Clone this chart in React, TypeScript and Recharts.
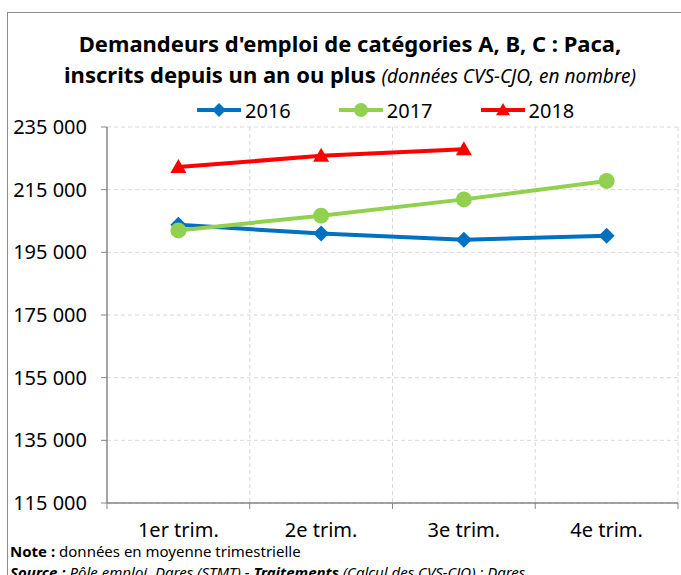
import React from 'react';
import { LineChart, Line, XAxis, YAxis, CartesianGrid, Legend } from 'recharts';

const quarters = ['1er trim.', '2e trim.', '3e trim.', '4e trim.'];
const values2016 = [203800, 201000, 199000, 200300];
const values2017 = [202000, 206700, 211900, 217800];
const values2018 = [222200, 225800, 227900, null];
const yTicks = [115000, 135000, 155000, 175000, 195000, 215000, 235000];

const BLUE = '#0070C0';
const GREEN = '#92D050';
const RED = '#FF0000';
const FONT = '"Noto Sans", "Open Sans", sans-serif';

const data = quarters.map((q, i) => ({
  q,
  y2016: values2016[i],
  y2017: values2017[i],
  y2018: values2018[i],
}));

const fmt = (v: number) => String(v).replace(/\B(?=(\d{3})+(?!\d))/g, ' ');

const Diamond = ({ cx, cy, color, r = 8 }: any) => (
  <polygon points={`${cx},${cy - r} ${cx + r},${cy} ${cx},${cy + r} ${cx - r},${cy}`} fill={color} />
);
const Circle = ({ cx, cy, color, r = 8 }: any) => <circle cx={cx} cy={cy} r={r} fill={color} />;
const Triangle = ({ cx, cy, color, r = 8 }: any) => (
  <polygon points={`${cx},${cy - r} ${cx + r},${cy + r * 0.75} ${cx - r},${cy + r * 0.75}`} fill={color} />
);

const dotFor = (Shape: any, color: string) => (props: any) => {
  if (props.value == null) return <g key={props.index} />;
  return <Shape key={props.index} cx={props.cx} cy={props.cy} color={color} />;
};

const legendItems = [
  { name: '2016', color: BLUE, Shape: Diamond },
  { name: '2017', color: GREEN, Shape: Circle },
  { name: '2018', color: RED, Shape: Triangle },
];

const renderLegend = () => (
  <div style={{ display: 'flex', height: 28, alignItems: 'center', paddingLeft: 195, gap: 46, fontFamily: FONT, fontSize: 20, color: '#000' }}>
    {legendItems.map((it) => (
      <div key={it.name} style={{ display: 'flex', alignItems: 'center' }}>
        <svg width={48} height={20}>
          <line x1={2} y1={10} x2={46} y2={10} stroke={it.color} strokeWidth={4} />
          <it.Shape cx={24} cy={10} color={it.color} r={7} />
        </svg>
        <span style={{ marginLeft: 2 }}>{it.name}</span>
      </div>
    ))}
  </div>
);

const XTick = ({ x, y, payload, index }: any) => {
  const half = 71.4;
  return (
    <g>
      <line x1={x - half} y1={y - 8} x2={x - half} y2={y - 2} stroke="#868686" />
      {index === quarters.length - 1 && (
        <line x1={x + half} y1={y - 8} x2={x + half} y2={y - 2} stroke="#868686" />
      )}
      <text x={x} y={y + 26} textAnchor="middle" fontFamily={FONT} fontSize={20} fill="#000">
        {payload.value}
      </text>
    </g>
  );
};

const App: React.FC = () => {
  const left = 107;
  const right = 678;
  const step = (right - left) / 4;
  const vPoints = [1, 2, 3, 4].map((k) => left + step * k);

  return (
    <div style={{ position: 'absolute', left: 0, top: 0, width: 681, height: 575, overflow: 'hidden', background: '#fff' }}>
      <div style={{ position: 'absolute', left: 7, top: 12, width: 700, height: 600, borderTop: '1.5px solid #8c8c8c', borderLeft: '1.5px solid #8c8c8c' }} />
      <div style={{ position: 'absolute', left: 0, top: 28, width: 700, textAlign: 'center', fontFamily: FONT, fontWeight: 700, fontSize: 22, lineHeight: '31px', color: '#000' }}>
        Demandeurs d'emploi de catégories A, B, C : Paca,
        <br />
        inscrits depuis un an ou plus{' '}
        <span style={{ fontWeight: 400, fontStyle: 'italic', fontSize: 19 }}>(données CVS-CJO, en nombre)</span>
      </div>
      <LineChart
        width={681}
        height={575}
        data={data}
        margin={{ top: 99, right: 3, bottom: 0, left: 0 }}
        style={{ position: 'absolute', left: 0, top: 0 }}
      >
        <CartesianGrid stroke="#d9d9d9" strokeDasharray="4 3" verticalPoints={vPoints} />
        <XAxis
          dataKey="q"
          padding={{ left: step / 2, right: step / 2 }}
          axisLine={{ stroke: '#868686', strokeWidth: 1.5 }}
          tickLine={false}
          tick={<XTick />}
          height={72}
          interval={0}
        />
        <YAxis
          width={107}
          domain={[115000, 235000]}
          ticks={yTicks}
          tickFormatter={fmt}
          axisLine={{ stroke: '#868686', strokeWidth: 1.5 }}
          tickLine={{ stroke: '#868686' }}
          tickSize={6}
          tickMargin={14}
          tick={{ fontFamily: FONT, fontSize: 20, fill: '#000' }}
          allowDataOverflow
        />
        <Legend verticalAlign="top" content={renderLegend} wrapperStyle={{ top: 96, left: 0, width: 681, height: 28 }} />
        <Line dataKey="y2016" stroke={BLUE} strokeWidth={4} dot={dotFor(Diamond, BLUE)} isAnimationActive={false} />
        <Line dataKey="y2017" stroke={GREEN} strokeWidth={4} dot={dotFor(Circle, GREEN)} isAnimationActive={false} />
        <Line dataKey="y2018" stroke={RED} strokeWidth={4} dot={dotFor(Triangle, RED)} isAnimationActive={false} />
      </LineChart>
      <div style={{ position: 'absolute', left: 10, top: 541, fontFamily: FONT, fontSize: 15, color: '#000', whiteSpace: 'nowrap' }}>
        <b>Note :</b> données en moyenne trimestrielle
      </div>
      <div style={{ position: 'absolute', left: 10, top: 562, fontFamily: FONT, fontSize: 15, fontStyle: 'italic', color: '#000', whiteSpace: 'nowrap' }}>
        <b>Source :</b> Pôle emploi, Dares (STMT) - <b>Traitements</b> (Calcul des CVS-CJO) : Dares
      </div>
    </div>
  );
};

export default App;
